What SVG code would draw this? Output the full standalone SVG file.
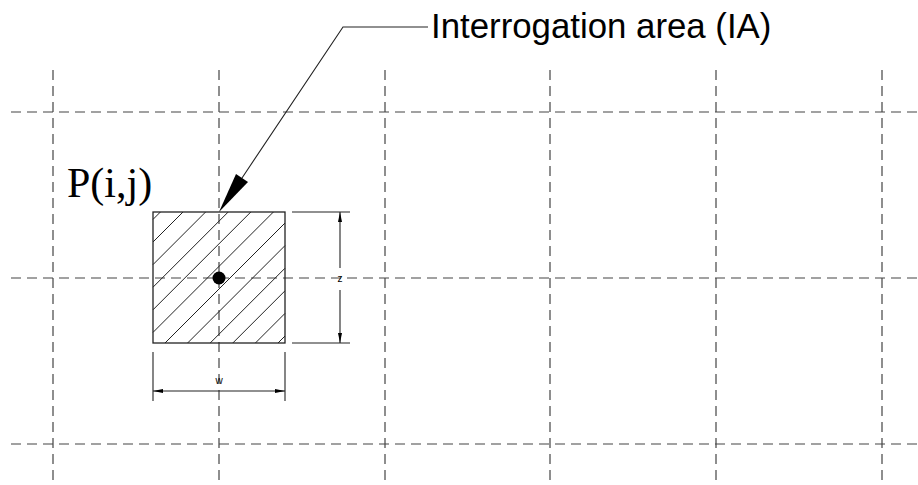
<svg xmlns="http://www.w3.org/2000/svg" width="918" height="485" viewBox="0 0 918 485">
<style>
.grid{stroke:#444;stroke-width:1.2;stroke-dasharray:10 6;fill:none}
.ln{stroke:#222;stroke-width:1.1;fill:none}
.hatch{stroke:#222;stroke-width:1;fill:none}
.lbl{font-family:"Liberation Sans",Arial,sans-serif;fill:#000}
.ser{font-family:"Liberation Serif","Times New Roman",serif;fill:#000}
</style>
<defs>
<marker id="dimArrow" viewBox="0 0 10 4" refX="10" refY="2" markerWidth="10" markerHeight="4" markerUnits="userSpaceOnUse" orient="auto-start-reverse">
<path d="M0,0 L10,2 L0,4 Z" fill="#000"/>
</marker>
</defs>
<rect width="918" height="485" fill="#fff"/>
<g id="grid">
<line class="grid" x1="53" y1="70" x2="53" y2="485"/>
<line class="grid" x1="219" y1="70" x2="219" y2="485"/>
<line class="grid" x1="385" y1="70" x2="385" y2="485"/>
<line class="grid" x1="550" y1="70" x2="550" y2="485"/>
<line class="grid" x1="716" y1="70" x2="716" y2="485"/>
<line class="grid" x1="882" y1="70" x2="882" y2="485"/>
<line class="grid" x1="11" y1="112" x2="918" y2="112"/>
<line class="grid" x1="11" y1="278" x2="918" y2="278"/>
<line class="grid" x1="11" y1="444" x2="918" y2="444"/>
</g>
<g id="ia">
<rect x="153" y="212" width="132" height="131" fill="none" stroke="#222" stroke-width="1.3"/>
<g class="hatch">
<line x1="153" y1="219.4" x2="160.4" y2="212"/>
<line x1="153" y1="242" x2="183" y2="212"/>
<line x1="153" y1="264.6" x2="205.6" y2="212"/>
<line x1="153" y1="287.2" x2="228.2" y2="212"/>
<line x1="153" y1="309.8" x2="250.8" y2="212"/>
<line x1="153" y1="332.4" x2="273.4" y2="212"/>
<line x1="165" y1="343" x2="285" y2="223"/>
<line x1="187.6" y1="343" x2="285" y2="245.6"/>
<line x1="210.2" y1="343" x2="285" y2="268.2"/>
<line x1="232.8" y1="343" x2="285" y2="290.8"/>
<line x1="255.4" y1="343" x2="285" y2="313.4"/>
<line x1="278" y1="343" x2="285" y2="336"/>
</g>
<circle cx="219" cy="278" r="6.5" fill="#000"/>
</g>
<g id="point-label">
<text class="ser" x="67" y="197" font-size="42">P(i,j)</text>
</g>
<g id="dim-z">
<line class="ln" x1="292" y1="212" x2="350" y2="212"/>
<line class="ln" x1="292" y1="343" x2="350" y2="343"/>
<line class="ln" x1="340" y1="268" x2="340" y2="212" marker-end="url(#dimArrow)"/>
<line class="ln" x1="340" y1="290" x2="340" y2="343" marker-end="url(#dimArrow)"/>
<text class="lbl" x="340" y="282" font-size="10" text-anchor="middle">z</text>
</g>
<g id="dim-w">
<line class="ln" x1="153" y1="352" x2="153" y2="401"/>
<line class="ln" x1="285" y1="352" x2="285" y2="401"/>
<line class="ln" x1="153" y1="391" x2="285" y2="391" marker-start="url(#dimArrow)" marker-end="url(#dimArrow)"/>
<text class="lbl" x="219" y="384" font-size="10" text-anchor="middle">w</text>
</g>
<g id="connectors">
<polyline class="ln" points="428,27 343,27 240,181"/>
<polygon points="219,212 248,182 236,174" fill="#000"/>
</g>
<g id="ia-label">
<text class="lbl" x="431" y="38" font-size="34.8">Interrogation area (IA)</text>
</g>
</svg>
